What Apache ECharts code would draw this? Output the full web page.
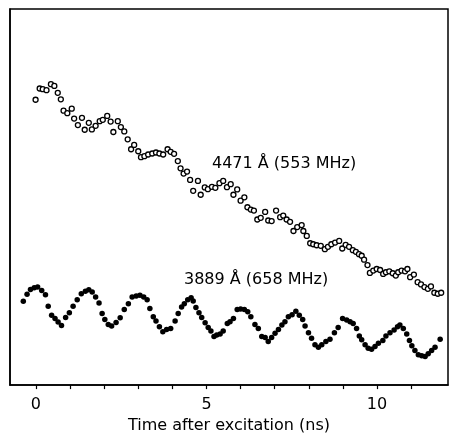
<!DOCTYPE html>
<html>
<head>
<meta charset="utf-8">
<script src="https://cdn.jsdelivr.net/npm/echarts@6/dist/echarts.min.js"></script>
<style>html,body{margin:0;padding:0;background:#fff;}#c{width:450px;height:439px;}</style>
</head>
<body>
<div id="c"></div>
<script>
// Time (ns)
var t4471 = [-0.01,0.11,0.20,0.31,0.44,0.54,0.64,0.73,0.81,0.92,1.05,1.12,1.23,1.35,1.43,1.55,1.64,1.75,1.87,1.96,2.09,2.19,2.27,2.40,2.49,2.59,2.69,2.79,2.88,3.00,3.08,3.18,3.29,3.41,
3.52,3.62,3.73,3.86,3.95,4.05,4.16,4.24,4.33,4.43,4.52,4.61,4.75,4.83,4.95,5.04,5.16,5.26,5.38,5.49,5.60,5.71,5.79,5.90,6.00,6.11,6.20,6.30,6.39,6.49,6.59,6.72,6.81,6.91,7.04,7.16,7.25,7.35,7.45,
7.55,7.66,7.79,7.84,7.94,8.04,8.13,8.23,8.35,8.47,8.56,8.66,8.77,8.89,8.98,9.08,9.18,9.29,9.38,9.47,9.55,9.62,9.72,9.79,9.89,9.99,10.09,10.18,10.26,10.36,10.46,10.55,10.62,10.72,10.82,10.89,10.97,11.08,11.19,11.29,11.39,11.49,11.58,11.68,11.78,11.88];
// Intensity (arb. units)
var i4471 = [288.3,299.7,299,298,304,302.3,295.3,288.7,277.3,274.7,279.3,269.3,262.7,270,258,265,258.3,262,266.7,268,272,266.3,255.7,266.7,260.7,256.3,248.3,238.3,242.7,236.3,230.3,231.3,233,234,
235,234,233,238.3,235.7,233.7,226.3,219,213.7,215.7,207.3,196.3,206.3,192.3,199.7,198,200.3,199.3,204,206.3,200,203,192.3,197.7,186.3,189.7,179.7,177.3,176.3,167.3,169,175,166.3,165.7,176.3,169.7,171.3,167.3,165,
155.7,159.7,161.7,155.7,150.7,143.3,142.3,141.3,140.7,137.3,139.7,142.3,144,145.7,138,141.7,139.7,136.3,134.7,132.3,130.7,126.7,121.3,113.3,115.7,117.3,116.3,112.3,114,115,113,110.7,114,115.7,115,117.3,109,111.7,104,101.7,99,97.3,99.7,93.3,92.3,93.3];

var t3889 = [-0.37,-0.26,-0.16,-0.05,0.05,0.17,0.28,0.36,0.46,0.56,0.65,0.75,0.87,0.98,1.09,1.21,1.33,1.45,1.55,1.65,1.75,1.85,1.94,2.02,2.12,2.22,2.35,2.47,2.59,2.71,2.82,2.94,3.05,3.16,3.26,
3.34,3.44,3.52,3.62,3.72,3.83,3.95,4.08,4.17,4.27,4.35,4.45,4.55,4.61,4.69,4.78,4.86,4.96,5.05,5.13,5.22,5.30,5.40,5.49,5.61,5.69,5.79,5.90,6.00,6.11,6.21,6.30,6.42,6.52,6.62,6.72,6.81,6.91,7.01,7.11,7.21,7.30,7.40,
7.51,7.62,7.72,7.82,7.89,7.99,8.08,8.18,8.28,8.38,8.50,8.62,8.75,8.86,8.99,9.11,9.21,9.30,9.40,9.48,9.55,9.65,9.74,9.84,9.94,10.04,10.17,10.26,10.38,10.50,10.60,10.67,10.77,10.87,10.95,11.02,11.11,11.21,11.31,11.41,11.50,11.60,11.70,11.85];
var i3889 = [84.7,91.7,96.7,98.3,99,95.7,91.3,79.7,70.7,67.3,63.7,60.3,68.3,73,79.7,86.3,92.3,94.7,96.3,94,89,83,72.3,66.3,61.3,59.7,63.3,68,76.3,82.3,89,90,90.7,89,86.3,
77.3,69,64.7,59,54,56.3,57.3,64.7,72.3,79,82.3,86.3,88.3,85,78.3,73,68.3,63,58.3,54.7,49,50.7,51.7,54.7,62.3,64,67.3,76.3,77,76.3,74,69,61.3,57.3,49,48,44,48,52.3,56.3,60.7,64,69,
71,74.7,70.7,66.3,59.7,53,47.3,40.7,38.3,40.7,44,46.3,53,58.3,67.3,65.7,64,62.3,57.3,49.7,45.7,40.7,37.3,36.3,39,42.3,45,49.7,53,55.7,59,60.7,57.3,51.7,45,39.7,35,30.7,29.7,29,31.7,35,38.3,46.3];

var xTicks = [0,1,2,3,4,5,6,7,8,9,10,11];
var xTickLabels = [0,5,10];
var xTitle = 'Time after excitation (ns)';
var label4471 = '4471 Å (553 MHz)';
var label3889 = '3889 Å (658 MHz)';

function zip(a,b){var r=[];for(var k=0;k<a.length;k++){r.push([a[k],b[k]]);}return r;}

var chart = echarts.init(document.getElementById('c'), null, {renderer:'canvas'});
var font = 'DejaVu Sans';
chart.setOption({
  animation:false,
  backgroundColor:'#fff',
  grid:{left:10,top:9,right:2,bottom:50,show:true,borderColor:'#000',borderWidth:1.5,backgroundColor:'transparent'},
  xAxis:{
    type:'value',min:-0.76,max:12.08,
    axisLine:{show:true,onZero:false,lineStyle:{color:'#000',width:1.5}},
    axisTick:{show:true,customValues:xTicks,length:4,inside:false,lineStyle:{color:'#000',width:1.2}},
    axisLabel:{show:true,customValues:xTickLabels,color:'#000',fontFamily:font,fontSize:16,margin:12},
    splitLine:{show:false},
    name:xTitle,nameLocation:'middle',nameGap:31,
    nameTextStyle:{color:'#000',fontFamily:font,fontSize:16}
  },
  yAxis:{
    type:'value',min:0,max:380,
    axisLine:{show:true,onZero:false,lineStyle:{color:'#000',width:1.5}},
    axisTick:{show:false},axisLabel:{show:false},splitLine:{show:false}
  },
  graphic:[
    {type:'text',left:212,top:156,style:{text:label4471,fill:'#000',font:'16px "DejaVu Sans"'}},
    {type:'text',left:184,top:272,style:{text:label3889,fill:'#000',font:'16px "DejaVu Sans"'}}
  ],
  series:[
    {type:'scatter',data:zip(t4471,i4471),symbol:'circle',symbolSize:5,
     itemStyle:{color:'#fff',borderColor:'#000',borderWidth:1.3,opacity:1}},
    {type:'scatter',data:zip(t3889,i3889),symbol:'circle',symbolSize:5.5,
     itemStyle:{color:'#000',borderWidth:0,opacity:1}}
  ]
});
</script>
</body>
</html>
